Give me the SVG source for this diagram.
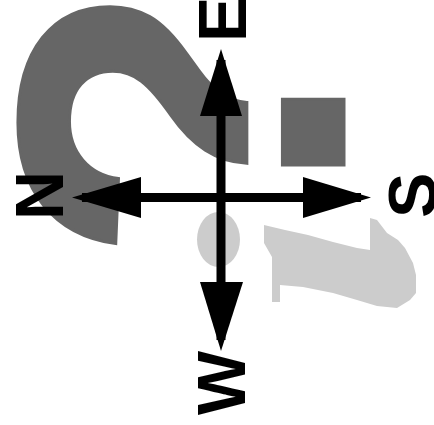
<svg xmlns="http://www.w3.org/2000/svg" width="434" height="425" viewBox="0 0 434 425">
<style>
.lbl{font-family:"Liberation Sans",Arial,sans-serif;font-weight:bold;font-size:68px;fill:#000}
.qd{font-family:"Liberation Sans",Arial,sans-serif;font-weight:bold;font-size:467px;fill:#666;stroke:#666;stroke-width:3;stroke-linejoin:miter}
.ax{stroke:#000;stroke-width:9;fill:none}
.hd{fill:#000}
</style>
<rect width="434" height="425" fill="#fff"/>
<g id="mark-dark">
<text class="qd" transform="translate(344,265) rotate(-90)">?</text>
</g>
<g id="mark-light" fill="#ccc">
<ellipse cx="218.5" cy="239.5" rx="21.5" ry="27.5"/>
<path d="M264,225 L285,230 L308,235 L333,242 L357,248 L370,250 L370,218 L377,220 L387,233 L398,240 L405,248 L413,263 L416,275 L416,293 L410,300 L397,308 L377,306 L357,300 L333,293 L303,287 L280,285 L280,302 L272,302 L272,257 L264,243 Z"/>
</g>
<g id="connectors">
<line class="ax" x1="221" y1="60" x2="221" y2="340"/>
<line class="ax" x1="82" y1="197.5" x2="361" y2="197.5"/>
<polygon class="hd" points="221,49 242,116 200,116"/>
<polygon class="hd" points="221,351 243,282 200,282"/>
<polygon class="hd" points="72,197.5 141,177 141,218"/>
<polygon class="hd" points="371,197.5 303,177 303,218"/>
</g>
<g id="label-E"><text class="lbl" transform="translate(246,42) rotate(-90)">E</text></g>
<g id="label-N"><text class="lbl" transform="translate(63,220) rotate(-90)">N</text></g>
<g id="label-S"><text class="lbl" transform="translate(436,218) rotate(-90)">S</text></g>
<g id="label-W"><text class="lbl" transform="translate(245,415) rotate(-90)">W</text></g>
</svg>
